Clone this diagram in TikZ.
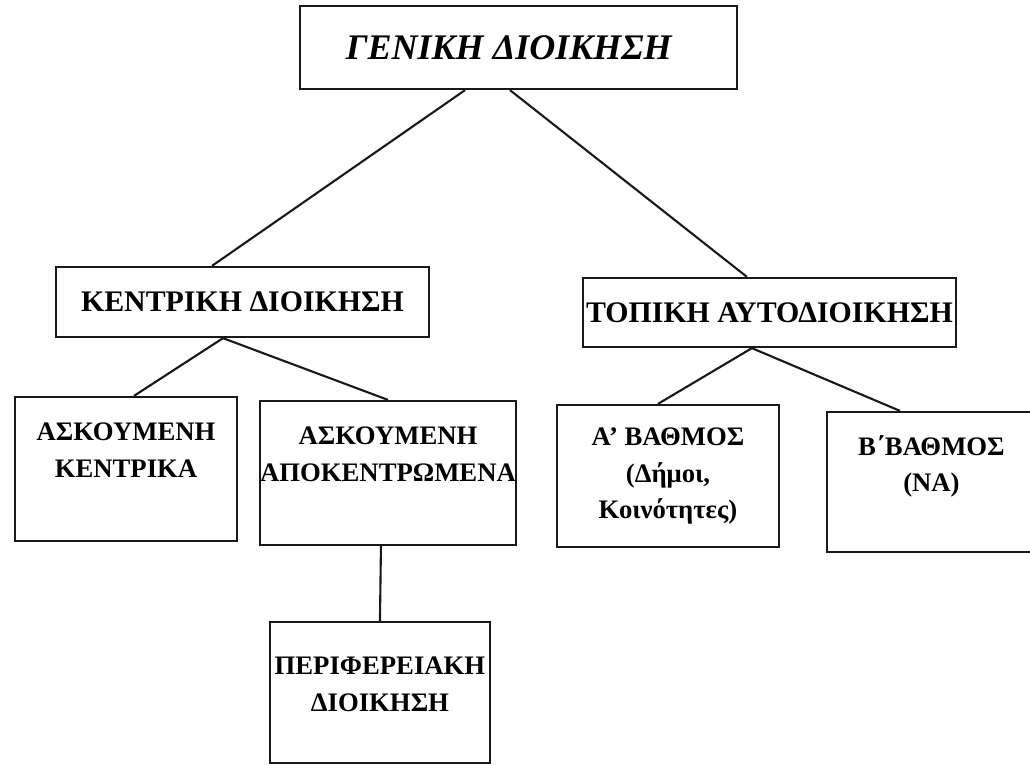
\documentclass[tikz,border=0pt]{standalone}
\usepackage{fontspec}
\setmainfont{Liberation Serif}
\usepackage{tikz}
\usetikzlibrary{shapes,arrows,calc}
\tikzstyle{head}=[draw=black!90,
                  line width=1.3pt,
                  minimum width=8.74cm,
                  minimum height=1.66cm,
                  font=\bfseries\itshape\fontsize{20.5}{24}\selectfont]
\tikzstyle{level}=[draw=black!90,
                   line width=1.3pt,
                   minimum width=7.46cm,
                   minimum height=1.4cm,
                   inner sep=0pt,
                   font=\bfseries\fontsize{17}{21}\selectfont]
\tikzstyle{unit}=[draw=black!90,
                  line width=1.3pt,
                  minimum height=2.88cm,
                  inner sep=0pt,
                  align=center,
                  font=\bfseries\fontsize{15.2}{21}\selectfont]
\tikzstyle{link}=[line width=1.2pt, draw=black!90]

\begin{document}
\begin{tikzpicture}[x=0.02cm, y=-0.02cm]
    \useasboundingbox (0,0) rectangle (1030,764);
    \node[head] (gen) at (518.5,47.5) {ΓΕΝΙΚΗ ΔΙΟΙΚΗΣΗ\hspace*{11pt}};
    \node[level] (kent) at (242.5,302) {ΚΕΝΤΡΙΚΗ ΔΙΟΙΚΗΣΗ};
    \node[level, minimum height=1.38cm, node distance=10.54cm, right of=kent, yshift=-0.21cm] (topi) {ΤΟΠΙΚΗ ΑΥΤΟΔΙΟΙΚΗΣΗ};
    \node[unit, minimum width=4.44cm] (askk) at (126,469) {ΑΣΚΟΥΜΕΝΗ\\ΚΕΝΤΡΙΚΑ\\~};
    \node[unit, minimum width=5.04cm, node distance=5.24cm, right of=askk, yshift=-0.08cm] (aska) {ΑΣΚΟΥΜΕΝΗ\\ΑΠΟΚΕΝΤΡΩΜΕΝΑ\\~};
    \node[unit, minimum width=4.4cm, minimum height=2.82cm, node distance=4.39cm, below of=aska, xshift=-0.16cm] (peri) {ΠΕΡΙΦΕΡΕΙΑΚΗ\\ΔΙΟΙΚΗΣΗ\\[-12pt]~};
    \node[unit, minimum width=4.44cm, minimum height=2.84cm] (avat) at (668,476) {Α’ ΒΑΘΜΟΣ\\(Δήμοι,\\Κοινότητες)};
    \node[unit, minimum width=4.18cm, minimum height=2.8cm, node distance=5.27cm, right of=avat, yshift=-0.12cm] (bvat) {Β΄ΒΑΘΜΟΣ\\(ΝΑ)\\~};
    \path[link] ([xshift=-1.07cm]gen.south) edge ([xshift=-0.61cm]kent.north)
   ([xshift=-0.17cm]gen.south) edge ([xshift=-0.45cm]topi.north)
   ([xshift=-0.39cm]kent.south) edge ([xshift=0.16cm]askk.north)
   ([xshift=-0.39cm]kent.south) edge (aska.north)
   ([xshift=-0.35cm]topi.south) edge ([xshift=-0.2cm]avat.north)
   ([xshift=-0.35cm]topi.south) edge ([xshift=-0.63cm]bvat.north)
   ([xshift=-0.14cm]aska.south) edge (peri.north);
\end{tikzpicture}
\end{document}
